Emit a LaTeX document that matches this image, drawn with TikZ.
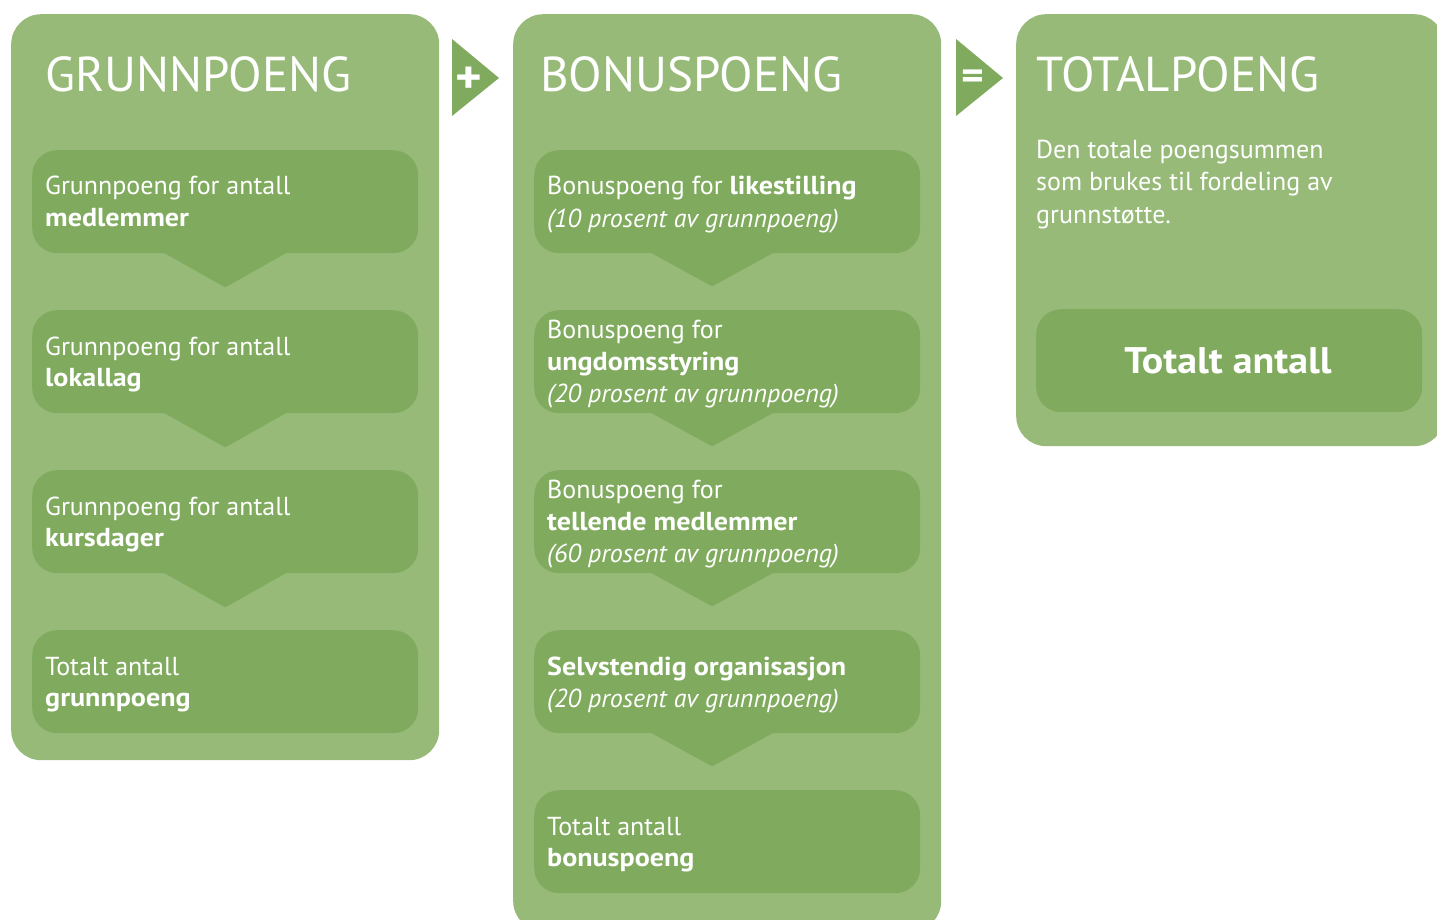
\documentclass[tikz,border=0pt]{standalone}
\usepackage{fontspec}
\setmainfont{PT Sans}[BoldFeatures={FakeStretch=1.08}]
\definecolor{outergreen}{HTML}{97BA79}
\definecolor{innergreen}{HTML}{80AB5E}
\begin{document}
\begin{tikzpicture}[x=1pt,y=-1pt,
  panel/.style={fill=outergreen, draw=none, rounded corners=30pt, inner sep=0pt, anchor=north west},
  stepbox/.style={fill=innergreen, draw=none, rounded corners=25pt, inner sep=0pt, anchor=north west, minimum width=386pt, minimum height=103pt},
  txt/.style={anchor=base west, inner sep=0pt, text=white, font=\fontsize{26}{30}\selectfont},
  ttl/.style={anchor=base west, inner sep=0pt, text=white, font=\fontsize{49}{50}\selectfont},
  sign/.style={inner sep=0pt, text=white, font=\bfseries\fontsize{40}{40}\selectfont}]
\useasboundingbox (0,0) rectangle (1437,920);
\clip (0,0) rectangle (1437,920);
% panels
\node[panel, minimum width=428pt, minimum height=746pt] (grunn) at (11,14) {};
\node[panel, minimum width=428pt, minimum height=917pt] (bonus) at (513,14) {};
\node[panel, minimum width=428pt, minimum height=432pt] (total) at (1016,14) {};
% operator triangles
\fill[innergreen] (452,39) -- (499,78) -- (452,116) -- cycle;
\node[sign, font=\fontsize{47}{47}\selectfont\bfseries] (plus) at (469,80) {+};
\fill[innergreen] (956,39) -- (1003,78) -- (956,116) -- cycle;
\node[sign] (eq) at (973,80) {=};
% titles
\node[ttl] (t1) at (45,92) {GRUNNPOENG};
\node[ttl] (t2) at (540,92) {BONUSPOENG};
\node[ttl] (t3) at (1036,92) {TOTALPOENG};
% left boxes
\foreach \n/\y in {g1/150,g2/310,g3/470,g4/630}{
  \node[stepbox] (\n) at (32,\y) {};
}
\foreach \n in {g1,g2,g3}{
  \fill[innergreen] ([xshift=-62pt,yshift=1pt]\n.south) -- ([yshift=-34pt]\n.south) -- ([xshift=62pt,yshift=1pt]\n.south) -- cycle;
}
\node[txt] (g1a) at (45,195) {Grunnpoeng for antall};
\node[txt] (g1b) at (45,226) {\bfseries medlemmer};
\node[txt] (g2a) at (45,355) {Grunnpoeng for antall};
\node[txt] (g2b) at (45,386) {\bfseries lokallag};
\node[txt] (g3a) at (45,515) {Grunnpoeng for antall};
\node[txt] (g3b) at (45,546) {\bfseries kursdager};
\node[txt] (g4a) at (45,675) {Totalt antall};
\node[txt] (g4b) at (45,706) {\bfseries grunnpoeng};
% middle boxes
\foreach \n/\y in {b1/150,b2/310,b3/470,b4/630,b5/790}{
  \node[stepbox] (\n) at (534,\y) {};
}
\foreach \n in {b1,b2,b3,b4}{
  \fill[innergreen] ([xshift=-77pt,yshift=1pt]\n.south) -- ([xshift=-15pt,yshift=-33pt]\n.south) -- ([xshift=47pt,yshift=1pt]\n.south) -- cycle;
}
\node[txt] (b1a) at (547,195) {Bonuspoeng for \textbf{likestilling}};
\node[txt] (b1b) at (547,227) {\itshape (10 prosent av grunnpoeng)};
\node[txt] (b2a) at (547,338) {Bonuspoeng for};
\node[txt] (b2b) at (547,370) {\bfseries ungdomsstyring};
\node[txt] (b2c) at (547,402) {\itshape (20 prosent av grunnpoeng)};
\node[txt] (b3a) at (547,498) {Bonuspoeng for};
\node[txt] (b3b) at (547,530) {\bfseries tellende medlemmer};
\node[txt] (b3c) at (547,562) {\itshape (60 prosent av grunnpoeng)};
\node[txt] (b4a) at (547,675) {\bfseries Selvstendig organisasjon};
\node[txt] (b4b) at (547,707) {\itshape (20 prosent av grunnpoeng)};
\node[txt] (b5a) at (547,835) {Totalt antall};
\node[txt] (b5b) at (547,866) {\bfseries bonuspoeng};
% right panel
\node[txt] (d1) at (1036,159) {Den totale poengsummen};
\node[txt] (d2) at (1036,191) {som brukes til fordeling av};
\node[txt] (d3) at (1036,223) {grunnstøtte.};
\node[stepbox] (tot) at (1036,309) {};
\node[anchor=base, inner sep=0pt, text=white, font=\bfseries\fontsize{37}{40}\selectfont] (totlbl) at (1228,373) {Totalt antall};
\end{tikzpicture}
\end{document}
